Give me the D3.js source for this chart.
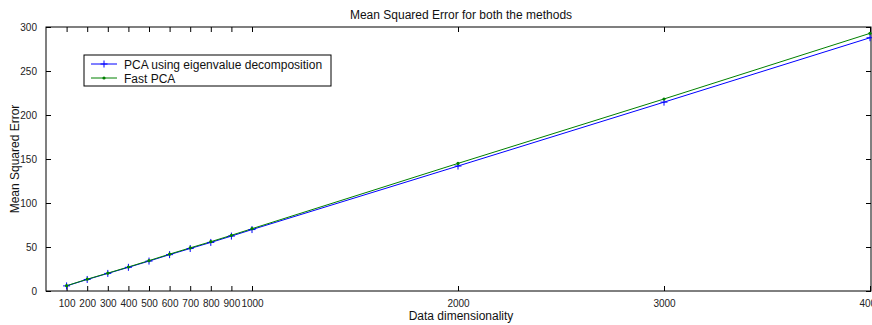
<!DOCTYPE html>
<html>
<head>
<meta charset="utf-8">
<script src="https://cdn.jsdelivr.net/npm/d3@7"></script>
<style>
  html, body { margin: 0; padding: 0; background: #fff; }
  svg { display: block; font-family: "Liberation Sans", Arial, sans-serif; }
</style>
</head>
<body>
<svg id="chart" width="872" height="325"></svg>
<script>
// Data dimensionality values tested
const dims = [100, 200, 300, 400, 500, 600, 700, 800, 900, 1000, 2000, 3000, 4000];
// Mean squared error for each method
const msePCA = [5.8, 13.1, 20.0, 26.9, 34.0, 41.3, 48.3, 55.2, 62.4, 69.8, 142.0, 214.6, 287.8];
const mseFast = [6.0, 13.4, 20.3, 27.3, 34.5, 41.9, 49.0, 56.0, 63.3, 70.8, 145.0, 218.2, 292.8];
// Axis ticks
const xTicks = [100, 200, 300, 400, 500, 600, 700, 800, 900, 1000, 2000, 3000, 4000];
const yTicks = [0, 50, 100, 150, 200, 250, 300];
const seriesNames = ["PCA using eigenvalue decomposition", "Fast PCA"];
const seriesColors = ["#0000ff", "#008000"];

const svg = d3.select("#chart");
const plotL = 46, plotR = 870, plotT = 27, plotB = 291;

const x = d3.scaleLinear().domain([0, 4000]).range([plotL, plotR]);
const y = d3.scaleLinear().domain([0, 300]).range([plotB, plotT]);

// Frame
svg.append("rect")
  .attr("x", plotL).attr("y", plotT)
  .attr("width", plotR - plotL + 1).attr("height", plotB - plotT)
  .attr("fill", "none").attr("stroke", "#000").attr("stroke-width", 1);

const tickLen = 5;
const fmt = d3.format("d");
// Bottom axis (inward ticks)
const xb = svg.append("g").attr("transform", `translate(0,${plotB})`)
  .call(d3.axisBottom(x).tickValues(xTicks).tickFormat(fmt).tickSizeInner(-tickLen).tickSizeOuter(0).tickPadding(9));
// Top axis ticks only
const xt = svg.append("g").attr("transform", `translate(0,${plotT})`)
  .call(d3.axisTop(x).tickValues(xTicks).tickSizeInner(-tickLen).tickSizeOuter(0).tickFormat(""));
// Left axis
const yl = svg.append("g").attr("transform", `translate(${plotL},0)`)
  .call(d3.axisLeft(y).tickValues(yTicks).tickFormat(fmt).tickSizeInner(-tickLen).tickSizeOuter(0).tickPadding(9));
// Right axis ticks only
const yr = svg.append("g").attr("transform", `translate(${plotR + 1},0)`)
  .call(d3.axisRight(y).tickValues(yTicks).tickSizeInner(-tickLen).tickSizeOuter(0).tickFormat(""));

[xb, xt, yl, yr].forEach(g => {
  g.select(".domain").remove();
  g.selectAll("line").attr("stroke", "#000");
  g.selectAll("text").attr("fill", "#222").attr("font-size", 10)
    .attr("font-family", "'Liberation Sans', Arial, sans-serif");
});

// Series lines
const series = [msePCA, mseFast];
const line = d3.line().x((d, i) => x(dims[i])).y(d => y(d));
series.forEach((vals, k) => {
  svg.append("path").datum(vals)
    .attr("d", line)
    .attr("fill", "none")
    .attr("stroke", seriesColors[k])
    .attr("stroke-width", 1);
});

// Markers: plus for PCA, dot for Fast PCA
const plusSize = 3.5;
svg.append("g").selectAll("path").data(msePCA).join("path")
  .attr("d", (d, i) => {
    const cx = x(dims[i]), cy = y(d);
    return `M${cx - plusSize},${cy}H${cx + plusSize}M${cx},${cy - plusSize}V${cy + plusSize}`;
  })
  .attr("stroke", seriesColors[0]).attr("stroke-width", 1).attr("fill", "none");
svg.append("g").selectAll("circle").data(mseFast).join("circle")
  .attr("cx", (d, i) => x(dims[i])).attr("cy", d => y(d))
  .attr("r", 1.6).attr("fill", seriesColors[1]);

// Legend
const lg = svg.append("g").attr("transform", "translate(84,55)");
lg.append("rect").attr("width", 247).attr("height", 31)
  .attr("fill", "#fff").attr("stroke", "#000").attr("stroke-width", 1);
seriesNames.forEach((name, k) => {
  const ly = 9 + k * 14;
  lg.append("line").attr("x1", 7).attr("x2", 33).attr("y1", ly).attr("y2", ly)
    .attr("stroke", seriesColors[k]).attr("stroke-width", 1);
  if (k === 0) {
    lg.append("path").attr("d", `M${20 - plusSize},${ly}H${20 + plusSize}M20,${ly - plusSize}V${ly + plusSize}`)
      .attr("stroke", seriesColors[k]).attr("stroke-width", 1);
  } else {
    lg.append("circle").attr("cx", 20).attr("cy", ly).attr("r", 1.6).attr("fill", seriesColors[k]);
  }
  lg.append("text").attr("x", 40).attr("y", ly + 4.5)
    .attr("font-size", 12).attr("fill", "#111").text(name);
});

// Title and axis labels
svg.append("text").attr("x", 461).attr("y", 19).attr("text-anchor", "middle")
  .attr("font-size", 12).attr("fill", "#111").text("Mean Squared Error for both the methods");
svg.append("text").attr("x", 461).attr("y", 320).attr("text-anchor", "middle")
  .attr("font-size", 12).attr("fill", "#111").text("Data dimensionality");
svg.append("text").attr("transform", `translate(19,${(plotT + plotB) / 2}) rotate(-90)`)
  .attr("text-anchor", "middle").attr("font-size", 12).attr("fill", "#111").text("Mean Squared Error");
</script>
</body>
</html>
